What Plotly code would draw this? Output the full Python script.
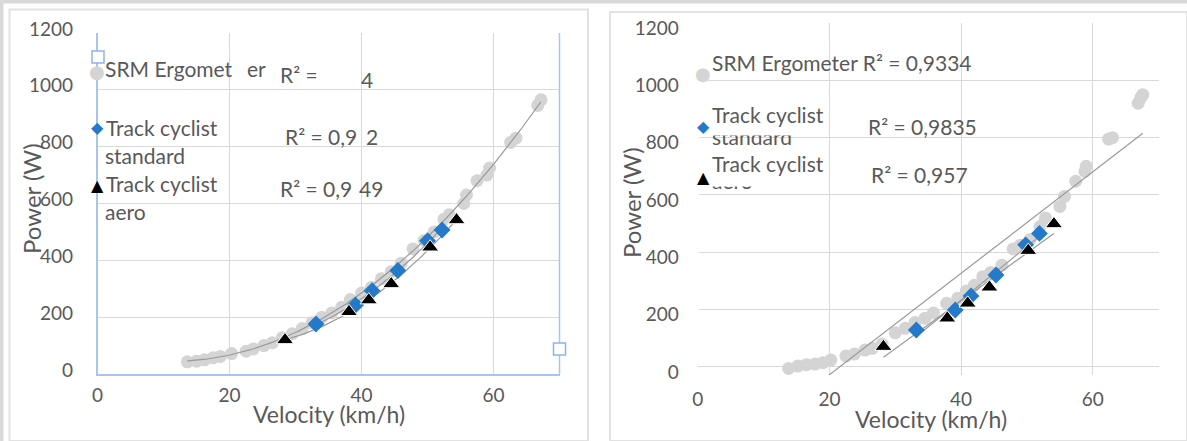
import numpy as np
import plotly.graph_objects as go

W, H = 1187, 441

# ---------------- data ----------------
x_ticks = [0, 20, 40, 60]
y_ticks = [0, 200, 400, 600, 800, 1000, 1200]

# Left chart (polynomial trendlines)
left_srm_v = [13.6, 15.0, 16.2, 17.5, 18.6, 20.3, 22.5, 23.6, 25.2, 26.5, 28.0, 29.5, 31.0,
              32.5, 34.0, 35.5, 37.0, 38.3, 40.0, 41.5, 43.0, 44.5, 46.0, 47.8, 49.5, 51.0,
              52.5, 53.3, 55.5, 55.9, 57.5, 59.0, 59.4, 62.6, 63.4, 66.7, 67.2]
left_srm_p = [43, 45, 50, 57, 62, 72, 80, 88, 100, 110, 128, 142, 160,
              180, 200, 215, 235, 262, 285, 305, 335, 360, 390, 440, 470, 500,
              545, 560, 600, 630, 680, 700, 725, 815, 830, 945, 965]
left_std_v = [33.1, 39.1, 41.6, 45.5, 50.0, 52.2]
left_std_p = [176, 243, 293, 364, 469, 507]
left_aero_v = [28.4, 38.1, 41.1, 44.5, 50.4, 54.4]
left_aero_p = [120, 219, 260, 317, 446, 542]

# Right chart (linear trendlines)
right_srm_v = [13.8, 15.2, 16.5, 17.8, 19.0, 20.2, 22.5, 23.8, 25.4, 26.5, 28.0, 30.0, 31.5,
               33.0, 34.5, 35.8, 37.8, 39.5, 40.8, 42.0, 43.3, 44.5, 46.2, 47.9, 49.0, 50.5,
               52.0, 52.8, 55.0, 55.7, 57.4, 58.8, 59.0, 62.4, 63.0, 66.9, 67.3, 67.6]
right_srm_p = [-5, 3, 8, 10, 15, 24, 38, 45, 59, 65, 80, 119, 135,
               155, 170, 188, 222, 240, 265, 285, 315, 330, 355, 412, 425, 445,
               490, 520, 560, 595, 648, 682, 700, 795, 800, 920, 940, 950]
right_std_v = [33.2, 39.1, 41.5, 45.3, 49.8, 51.9]
right_std_p = [129, 199, 248, 321, 426, 466]
right_aero_v = [28.2, 37.9, 41.0, 44.3, 50.2, 54.1]
right_aero_p = [71, 170, 222, 278, 406, 499]

series_names = ["SRM Ergometer", "Track cyclist standard", "Track cyclist aero"]

# ---------------- styles ----------------
GRAY_PT = "rgb(212,212,212)"
BLUE = "#2479c9"
BLACK = "#000000"
TREND = "#9a9a9a"
GRID = "#d9d9d9"
TXT = "#595959"
SEL = "#a9c5ef"
FONT = "Lato"


def px(x):
    return x / W


def py(y):
    return 1 - y / H


def trend(v, p, deg):
    c = np.polyfit(v, p, deg)
    xs = np.linspace(min(v), max(v), 150)
    return xs, np.polyval(c, xs)


fig = go.Figure()


def add_panel(xa, ya, srm, std, aero, deg):
    (sv, sp), (dv, dp), (av, ap) = srm, std, aero
    fig.add_trace(go.Scatter(x=sv, y=sp, mode="markers", name=series_names[0], xaxis=xa, yaxis=ya,
                             marker=dict(symbol="circle", size=13, color=GRAY_PT), showlegend=False))
    for v, p in (srm, std, aero):
        tx, ty = trend(v, p, deg)
        fig.add_trace(go.Scatter(x=tx, y=ty, mode="lines", xaxis=xa, yaxis=ya, showlegend=False,
                                 line=dict(color=TREND, width=1.2), hoverinfo="skip"))
    fig.add_trace(go.Scatter(x=dv, y=dp, mode="markers", name=series_names[1], xaxis=xa, yaxis=ya,
                             marker=dict(symbol="diamond", size=13, color=BLUE), showlegend=False))
    fig.add_trace(go.Scatter(x=av, y=ap, mode="markers", name=series_names[2], xaxis=xa, yaxis=ya,
                             marker=dict(symbol="triangle-up", size=15, color=BLACK,
                                         line=dict(color="white", width=1)), showlegend=False))


add_panel("x", "y", (left_srm_v, left_srm_p), (left_std_v, left_std_p), (left_aero_v, left_aero_p), 2)
add_panel("x2", "y2", (right_srm_v, right_srm_p), (right_std_v, right_std_p), (right_aero_v, right_aero_p), 1)

tickfont = dict(family=FONT, size=19, color=TXT)

fig.update_layout(
    width=W, height=H, autosize=False,
    margin=dict(l=0, r=0, t=0, b=0, pad=0, autoexpand=False),
    paper_bgcolor="white", plot_bgcolor="white",
    showlegend=False,
    xaxis=dict(domain=[97.6 / W, 559.5 / W], range=[0, 70], tickvals=x_ticks, automargin=False,
               showgrid=True, gridcolor=GRID, zeroline=False, showline=True, linecolor=SEL,
               linewidth=1.5, ticks="", tickfont=tickfont, ticklabelstandoff=3, anchor="y"),
    yaxis=dict(domain=[py(374), py(33)], range=[0, 1200], tickvals=y_ticks, automargin=False,
               showgrid=True, gridcolor=GRID, zeroline=False, showline=True, linecolor=SEL,
               linewidth=1.5, ticks="", tickfont=tickfont, ticklabelstandoff=19, ticklabelshift=-4,
               anchor="x"),
    xaxis2=dict(domain=[697.8 / W, 1158.6 / W], range=[0, 70], tickvals=x_ticks, automargin=False,
                showgrid=True, gridcolor=GRID, zeroline=True, zerolinecolor="white", zerolinewidth=2,
                showline=False, ticks="", tickfont=tickfont, ticklabelstandoff=11, anchor="y2"),
    yaxis2=dict(domain=[py(375), py(23)], range=[-28, 1200], tickvals=y_ticks, automargin=False,
                showgrid=True, gridcolor=GRID, zeroline=True, zerolinecolor=GRID, zerolinewidth=1,
                showline=False, ticks="", tickfont=tickfont, ticklabelstandoff=18, ticklabelshift=5,
                anchor="x2"),
)

shapes = []
# page frame: grey band at top and left
shapes.append(dict(type="rect", xref="paper", yref="paper", x0=0, x1=1, y0=py(3.5), y1=1,
                   fillcolor="#d9d9d9", line=dict(width=0), layer="below"))
shapes.append(dict(type="rect", xref="paper", yref="paper", x0=0, x1=px(3.5), y0=0, y1=1,
                   fillcolor="#d9d9d9", line=dict(width=0), layer="below"))
# panel borders
shapes.append(dict(type="rect", xref="paper", yref="paper", x0=px(9.5), x1=px(588), y0=0, y1=py(9.5),
                   line=dict(color="#e2e2e2", width=2), layer="below"))
shapes.append(dict(type="rect", xref="paper", yref="paper", x0=px(610), x1=1, y0=0, y1=py(12),
                   line=dict(color="#e2e2e2", width=2), layer="below"))
# selection box right edge of left plot area
shapes.append(dict(type="line", xref="x domain", yref="y domain", x0=1, x1=1, y0=0, y1=1,
                   line=dict(color=SEL, width=1.5), layer="above"))
# selection handles
for cx, cy in ((98, 57), (559.5, 349)):
    shapes.append(dict(type="rect", xref="paper", yref="paper", x0=px(cx - 6), x1=px(cx + 6),
                       y0=py(cy + 6), y1=py(cy - 6), fillcolor="white",
                       line=dict(color="#8fb2ea", width=1.5), layer="above"))
fig.update_layout(shapes=shapes)

ann = []


def text(t, x, y, size=21, color=TXT, anchor="left", family=FONT, angle=0):
    ann.append(dict(text=t, x=px(x), y=py(y), xref="paper", yref="paper", xanchor=anchor,
                    yanchor="middle", showarrow=False, textangle=angle,
                    font=dict(family=family, size=size, color=color), borderpad=0))


def cover(x0, y0, x1, y1):
    ann.append(dict(text=" ", x=px(x0), y=py(y0), xref="paper", yref="paper", xanchor="left",
                    yanchor="top", showarrow=False, width=x1 - x0, height=y1 - y0,
                    bgcolor="white", borderpad=0, font=dict(size=4)))


def sym(kind, x, y):
    glyph = {"circle": ("●", 18, GRAY_PT), "diamond": ("◆", 16, BLUE), "triangle": ("▲", 16, BLACK)}[kind]
    text(glyph[0], x, y, size=glyph[1], color=glyph[2], anchor="center", family="DejaVu Sans")


# left chart legend / labels
text("SRM Ergomet", 104, 69)
text("er", 246, 68)
text("R² =", 279, 75)
text("4", 360, 79)
text("Track cyclist", 105, 127)
text("standard", 104, 155)
text("R² = 0,9", 284, 136)
text("2", 365, 136)
text("Track cyclist", 105, 183)
text("aero", 104, 212)
text("R² = 0,9", 279, 188)
text("49", 358, 188)
sym("circle", 97, 72)
sym("diamond", 97, 128)
sym("triangle", 97, 185)

# right chart legend / labels (partly clipped entries, as in the reference)
text("SRM Ergometer R² = 0,9334", 711, 62)
text("standard", 711, 136)
cover(709, 118, 800, 134)
text("Track cyclist", 711, 114)
text("aero", 711, 180)
cover(709, 165, 760, 185)
text("Track cyclist", 711, 163)
text("R² = 0,9835", 867, 126)
text("R² = 0,957", 870, 175)
sym("circle", 703, 73)
sym("diamond", 703, 126)
sym("triangle", 703, 178)

# axis titles
text("Velocity (km/h)", 329, 414, size=23, anchor="center")
text("Velocity (km/h)", 931, 419, size=23, anchor="center")
text("Power (W)", 31, 198, size=24, anchor="center", angle=-90)
text("Power (W)", 632, 203, size=24, anchor="center", angle=-90)

fig.update_layout(annotations=ann)
fig.write_html("out.html", config={"displayModeBar": False},
               post_script="document.body.style.margin='0';document.body.style.overflow='hidden';")
